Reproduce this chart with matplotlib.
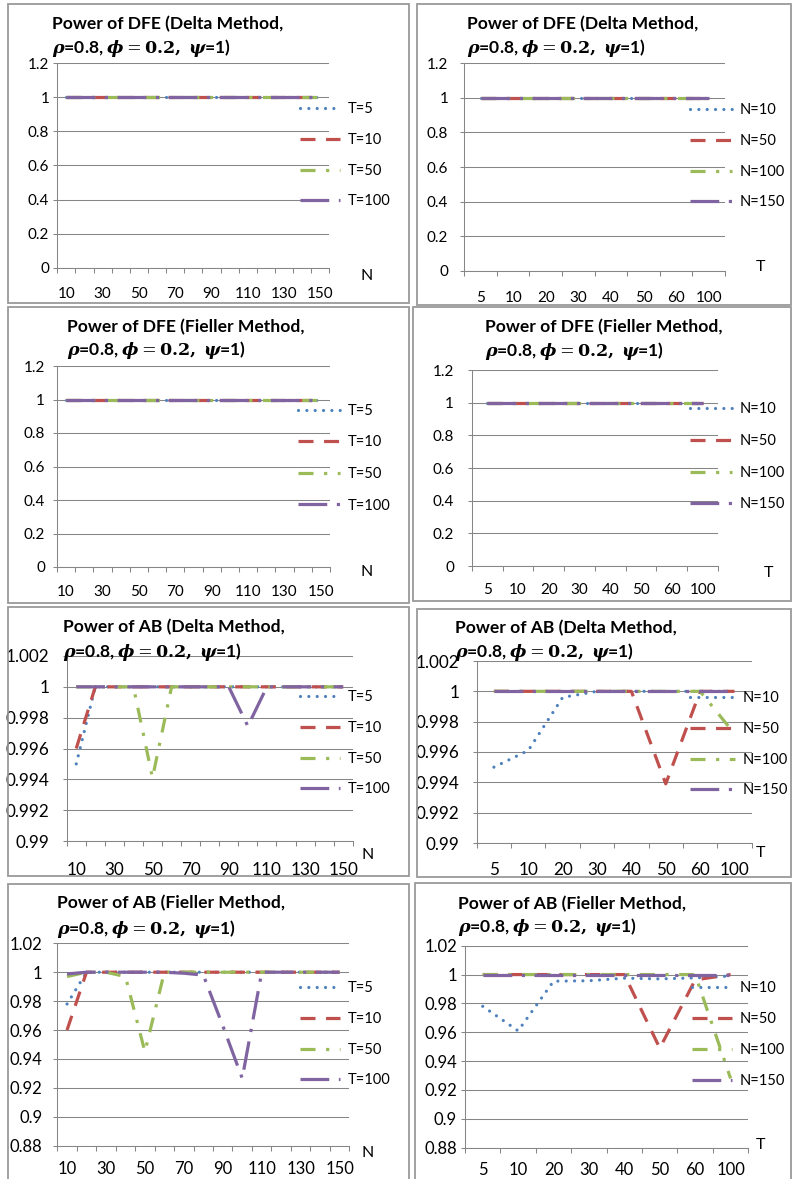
import matplotlib
matplotlib.use("Agg")
import matplotlib.pyplot as plt
from matplotlib.patches import Rectangle

W, H = 794, 1179
plt.rcParams["font.family"] = ["Lato", "DejaVu Sans"]
plt.rcParams["mathtext.fontset"] = "dejavuserif"

# ---------------------- data ----------------------
N_vals = [10, 20, 30, 40, 50, 60, 70, 80, 90, 100, 110, 120, 130, 140, 150]
N_labels = ["10", "", "30", "", "50", "", "70", "", "90", "", "110", "", "130", "", "150"]
T_vals = [5, 10, 20, 30, 40, 50, 60, 100]
T_labels = ["5", "10", "20", "30", "40", "50", "60", "100"]
T_series = ["T=5", "T=10", "T=50", "T=100"]
N_series = ["N=10", "N=50", "N=100", "N=150"]

# power of DFE, Delta method, vs N (rows T=5, 10, 50, 100)
dfe_delta_N = [
    [1, 1, 1, 1, 1, 1, 1, 1, 1, 1, 1, 1, 1, 1, 1],
    [1, 1, 1, 1, 1, 1, 1, 1, 1, 1, 1, 1, 1, 1, 1],
    [1, 1, 1, 1, 1, 1, 1, 1, 1, 1, 1, 1, 1, 1, 1],
    [1, 1, 1, 1, 1, 1, 1, 1, 1, 1, 1, 1, 1, 1, 1],
]
# power of DFE, Delta method, vs T (rows N=10, 50, 100, 150)
dfe_delta_T = [
    [1, 1, 1, 1, 1, 1, 1, 1],
    [1, 1, 1, 1, 1, 1, 1, 1],
    [1, 1, 1, 1, 1, 1, 1, 1],
    [1, 1, 1, 1, 1, 1, 1, 1],
]
dfe_fieller_N = [
    [1, 1, 1, 1, 1, 1, 1, 1, 1, 1, 1, 1, 1, 1, 1],
    [1, 1, 1, 1, 1, 1, 1, 1, 1, 1, 1, 1, 1, 1, 1],
    [1, 1, 1, 1, 1, 1, 1, 1, 1, 1, 1, 1, 1, 1, 1],
    [1, 1, 1, 1, 1, 1, 1, 1, 1, 1, 1, 1, 1, 1, 1],
]
dfe_fieller_T = [
    [1, 1, 1, 1, 1, 1, 1, 1],
    [1, 1, 1, 1, 1, 1, 1, 1],
    [1, 1, 1, 1, 1, 1, 1, 1],
    [1, 1, 1, 1, 1, 1, 1, 1],
]
ab_delta_N = [
    [0.995, 1, 1, 1, 1, 1, 1, 1, 1, 1, 1, 1, 1, 1, 1],
    [0.996, 1, 1, 1, 1, 1, 1, 1, 1, 1, 1, 1, 1, 1, 1],
    [1, 1, 1, 1, 0.9941, 1, 1, 1, 1, 1, 1, 1, 1, 1, 1],
    [1, 1, 1, 1, 1, 1, 1, 1, 1, 0.99745, 1, 1, 1, 1, 1],
]
ab_delta_T = [
    [0.995, 0.9961, 0.9996, 1, 1, 1, 1, 1],
    [1, 1, 1, 1, 1, 0.9939, 1, 1],
    [1, 1, 1, 1, 1, 1, 1, 0.9972],
    [1, 1, 1, 1, 1, 1, 1, 1],
]
ab_fieller_N = [
    [0.978, 1, 1, 1, 1, 1, 1, 1, 1, 1, 1, 1, 1, 1, 1],
    [0.960, 1, 1, 1, 1, 1, 1, 1, 1, 1, 1, 1, 1, 1, 1],
    [0.997, 1, 1, 0.997, 0.945, 1, 1, 1, 1, 1, 1, 1, 1, 1, 1],
    [0.9988, 1, 1, 1, 1, 1, 0.9993, 0.998, 0.963, 0.9266, 1, 1, 1, 1, 1],
]
ab_fieller_T = [
    [0.978, 0.961, 0.9954, 0.9957, 0.9975, 0.997, 0.9977, 0.999],
    [1, 1, 1, 1, 1, 0.949, 0.9963, 1],
    [1, 1, 1, 1, 1, 1, 1, 0.928],
    [1, 1, 1, 1, 1, 1, 1, 1],
]

# ---------------------- styles ----------------------
colors = ["#4F81BD", "#C0504D", "#9BBB59", "#8064A2"]
dashes = [(0.01, 2.6), (4.7, 3.3), (4.7, 3.3, 1, 3.3), (9, 3, 1, 3)]
caps = ["round", "butt", "butt", "butt"]
GRID = "#868686"

title1 = {"dfe_d": "Power of DFE (Delta Method,", "dfe_f": "Power of DFE (Fieller Method,",
          "ab_d": "Power of AB (Delta Method,", "ab_f": "Power of AB (Fieller Method,"}
title2 = r"$\mathbfit{\rho}$=0.8, $\mathbfit{\phi}=\mathbf{0.2,}$ $\mathbfit{\psi}$=1)"

yl_big = ([0, 0.2, 0.4, 0.6, 0.8, 1.0, 1.2], ["0", "0.2", "0.4", "0.6", "0.8", "1", "1.2"])
yl_d = ([0.99, 0.992, 0.994, 0.996, 0.998, 1.0, 1.002],
        ["0.99", "0.992", "0.994", "0.996", "0.998", "1", "1.002"])
yl_f = ([0.88, 0.9, 0.92, 0.94, 0.96, 0.98, 1.0, 1.02],
        ["0.88", "0.9", "0.92", "0.94", "0.96", "0.98", "1", "1.02"])

# layout in pixels: box, axes (l, t, r, b), title pos, axis-label pos, legend (x0, x1, ytop, step)
panels = [
    dict(box=(8, 4, 409, 303), ax=(57.3, 63.3, 329.3, 267.7), title=(52, 24, 48), t="dfe_d",
         xl=("N", 367, 276), leg=(300, 340, 107, 31), ypad=8, xpad=19, fs=11, yl=yl_big,
         data=dfe_delta_N, by="N"),
    dict(box=(417, 4, 791, 305), ax=(464.3, 63.3, 725, 270.7), title=(467, 24, 48), t="dfe_d",
         xl=("T", 760, 267), leg=(690, 732, 108, 31), ypad=16, xpad=20, fs=11, yl=yl_big,
         data=dfe_delta_T, by="T"),
    dict(box=(8, 307, 409, 603), ax=(57, 366, 330, 567), title=(67, 327, 350), t="dfe_f",
         xl=("N", 367, 572), leg=(298, 340, 409, 31.7), ypad=12, xpad=18, fs=11, yl=yl_big,
         data=dfe_fieller_N, by="N"),
    dict(box=(413, 307, 791, 601), ax=(472, 370, 718, 566), title=(485, 327, 351), t="dfe_f",
         xl=("T", 768, 573), leg=(690, 732, 407, 32), ypad=18, xpad=17, fs=11, yl=yl_big,
         data=dfe_fieller_T, by="T"),
    dict(box=(8, 607, 409, 876), ax=(66.7, 656, 352.7, 841), title=(63, 627, 652), t="ab_d",
         xl=("N", 368, 855), leg=(300, 340, 695, 31), ypad=17, xpad=21, fs=12.3, yl=yl_d,
         data=ab_delta_N, by="N"),
    dict(box=(417, 609, 791, 877), ax=(476.7, 661, 751.7, 843), title=(455, 628, 652), t="ab_d",
         xl=("T", 760, 853), leg=(690, 735, 696, 31), ypad=17.5, xpad=19, fs=12.3, yl=yl_d,
         data=ab_delta_T, by="T"),
    dict(box=(8, 884, 409, 1185), ax=(57.3, 943.3, 349.3, 1145.7), title=(57, 903, 929), t="ab_f",
         xl=("N", 368, 1153), leg=(300, 340, 986, 31), ypad=15, xpad=15, fs=12, yl=yl_f,
         data=ab_fieller_N, by="N"),
    dict(box=(415, 883, 791, 1185), ax=(465, 945.7, 748.3, 1147.7), title=(458, 904, 927), t="ab_f",
         xl=("T", 760, 1145), leg=(692, 732, 986, 31.3), ypad=8, xpad=14, fs=12, yl=yl_f,
         data=ab_fieller_T, by="T"),
]

fig = plt.figure(figsize=(W / 100, H / 100), dpi=100)
PT = 0.72  # points per pixel at 100 dpi


def fx(x):
    return x / W


def fy(y):
    return 1 - y / H


for p in panels:
    bl, bt, br, bb = p["box"]
    fig.patches.append(Rectangle((fx(bl), fy(bb)), (br - bl) / W, (bb - bt) / H,
                                 transform=fig.transFigure, fill=False,
                                 edgecolor="#9a9a9a", lw=1.3))
    l, t, r, b = p["ax"]
    ax = fig.add_axes([fx(l), fy(b), (r - l) / W, (b - t) / H])

    if p["by"] == "N":
        cats, labels, names = N_vals, N_labels, T_series
    else:
        cats, labels, names = T_vals, T_labels, N_series
    xs = list(range(len(cats)))

    handles = []
    for i, series in enumerate(p["data"]):
        ln, = ax.plot(xs, series, color=colors[i], lw=2.3, label=names[i],
                      solid_capstyle="butt")
        ln.set_dashes(dashes[i])
        ln.set_dash_capstyle(caps[i])
        handles.append(ln)

    yt, ytl = p["yl"]
    ax.set_ylim(yt[0], yt[-1])
    ax.set_yticks(yt)
    ax.set_yticklabels(ytl)
    ax.set_xlim(-0.5, len(cats) - 0.5)
    ax.set_xticks(xs)
    ax.set_xticklabels(labels)
    ax.set_xticks([k - 0.5 for k in range(len(cats) + 1)], minor=True)
    ax.tick_params(axis="x", which="major", length=0, pad=p["xpad"] * PT, labelsize=p["fs"])
    ax.tick_params(axis="x", which="minor", length=4.5 * PT, width=0.75, color=GRID, direction="out")
    ax.tick_params(axis="y", length=4 * PT, width=0.75, color=GRID, pad=(p["ypad"] - 4) * PT,
                   labelsize=p["fs"])
    ax.grid(axis="y", color=GRID, lw=0.75)
    ax.set_axisbelow(True)
    for s in ["top", "right"]:
        ax.spines[s].set_visible(False)
    for s in ["left", "bottom"]:
        ax.spines[s].set_color(GRID)
        ax.spines[s].set_linewidth(0.75)
    ax.patch.set_alpha(0)

    tx, ty1, ty2 = p["title"]
    fig.text(fx(tx), fy(ty1), title1[p["t"]], fontsize=12.6, fontweight="bold",
             ha="left", va="center")
    fig.text(fx(tx), fy(ty2), title2, fontsize=12.6, fontweight="bold", ha="left", va="center")

    name, lx, ly = p["xl"]
    fig.text(fx(lx), fy(ly), name, fontsize=11.5, ha="center", va="center")

    x0, x1, ytop, step = p["leg"]
    fs = 10.5
    fpx = fs / PT
    rowh = 0.97 * fpx
    ax.legend(handles=handles, loc="upper left", frameon=False, fontsize=fs,
              bbox_to_anchor=(fx(x0), fy(ytop - rowh / 2 + 2)), bbox_transform=fig.transFigure,
              borderpad=0, borderaxespad=0, handlelength=(x1 - x0) / fpx,
              handletextpad=8 / fpx, labelspacing=(step - rowh) / fpx)

fig.savefig("out.png", dpi=100)
